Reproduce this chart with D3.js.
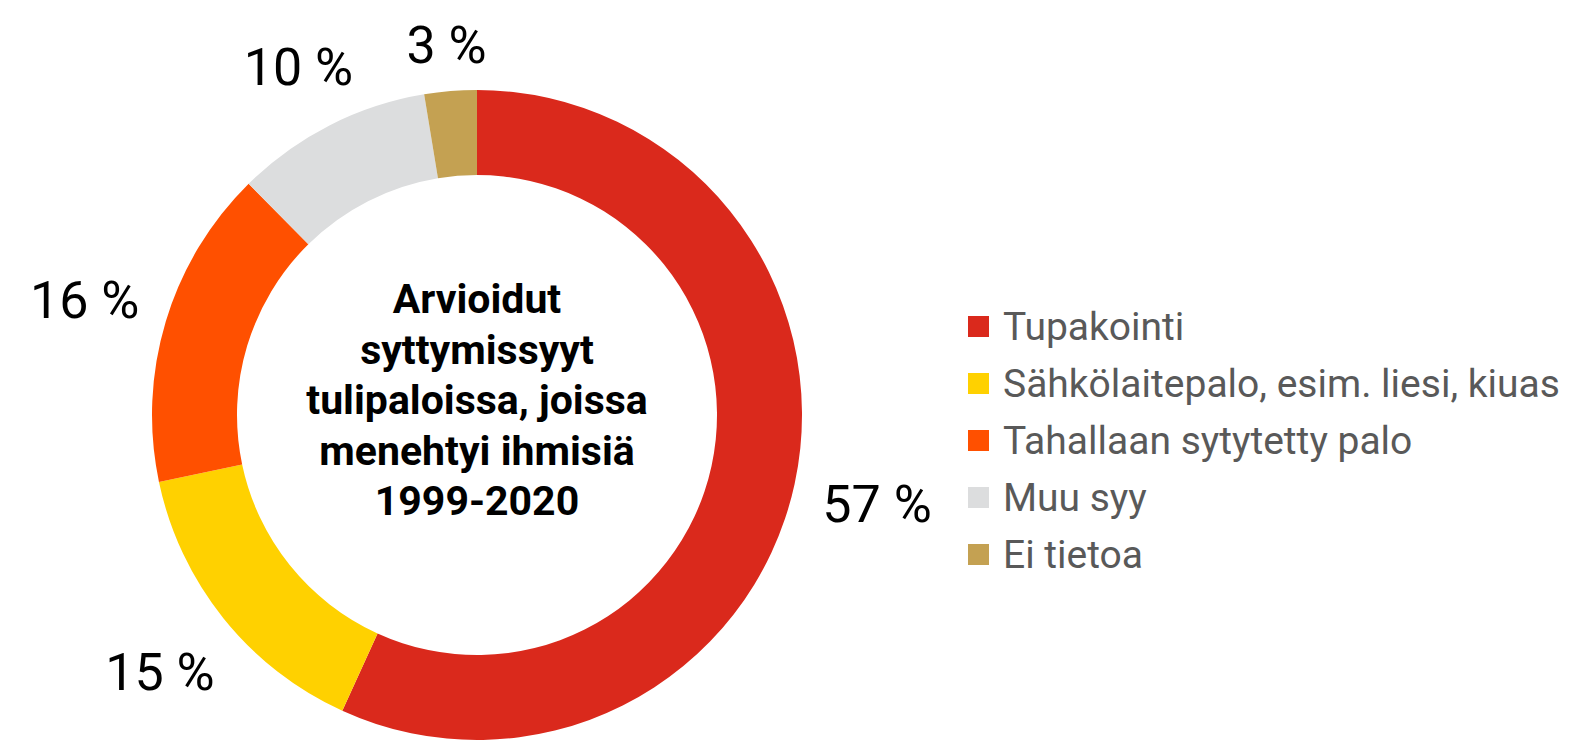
<!DOCTYPE html>
<html>
<head>
<meta charset="utf-8">
<script src="https://cdn.jsdelivr.net/npm/d3@7"></script>
<style>
  html, body { margin: 0; padding: 0; background: #ffffff; }
  svg { display: block; }
</style>
</head>
<body>
<svg id="chart" width="1573" height="743"></svg>
<script>
// ---- Data ----
const categories = [
  "Tupakointi",
  "Sähkölaitepalo, esim. liesi, kiuas",
  "Tahallaan sytytetty palo",
  "Muu syy",
  "Ei tietoa"
];
const values = [56.8, 14.9, 15.9, 9.8, 2.6];
const valueLabels = ["57 %", "15 %", "16 %", "10 %", "3 %"];
const colors = ["#DA291C", "#FFD100", "#FF5000", "#DCDDDE", "#C4A152"];
const titleLines = ["Arvioidut", "syttymissyyt", "tulipaloissa, joissa", "menehtyi ihmisiä", "1999-2020"];

// ---- Layout ----
const cx = 477, cy = 415;
const outerR = 325, innerR = 240;
const labelGap = 352;

const svg = d3.select("#chart");
const g = svg.append("g").attr("transform", `translate(${cx},${cy})`);

const data = categories.map((c, i) => ({ name: c, value: values[i], label: valueLabels[i], color: colors[i] }));

const pie = d3.pie().value(d => d.value).sort(null);
const arc = d3.arc().innerRadius(innerR).outerRadius(outerR);
const arcs = pie(data);

g.selectAll("path.slice")
  .data(arcs)
  .join("path")
  .attr("class", "slice")
  .attr("d", arc)
  .attr("fill", d => d.data.color);

// value labels
const labels = g.selectAll("text.val")
  .data(arcs)
  .join("text")
  .attr("class", "val")
  .attr("font-family", "Roboto, 'Liberation Sans', sans-serif")
  .attr("font-size", 52)
  .attr("font-weight", 400)
  .attr("fill", "#000")
  .attr("text-anchor", "middle")
  .attr("dominant-baseline", "central")
  .text(d => d.data.label);

labels.each(function(d) {
  const bb = this.getBBox();
  const w = bb.width, h = 37;
  const a = (d.startAngle + d.endAngle) / 2;
  const r = labelGap + (w / 2) * Math.abs(Math.sin(a)) + (h / 2) * Math.abs(Math.cos(a));
  d3.select(this)
    .attr("x", r * Math.sin(a))
    .attr("y", -r * Math.cos(a) + 3);
});

// center title
const title = g.append("text")
  .attr("font-family", "Roboto, 'Liberation Sans', sans-serif")
  .attr("font-size", 41)
  .attr("font-weight", 700)
  .attr("fill", "#000")
  .attr("text-anchor", "middle");
const pitch = 50.5;
title.selectAll("tspan")
  .data(titleLines)
  .join("tspan")
  .attr("x", 0)
  .attr("y", (d, i) => 313 - cy + i * pitch)
  .text(d => d);

// legend
const legend = svg.append("g").attr("transform", "translate(968,0)");
const legendY = d3.scalePoint().domain(categories).range([327, 555]);
const items = legend.selectAll("g.item")
  .data(data)
  .join("g")
  .attr("class", "item")
  .attr("transform", d => `translate(0,${legendY(d.name)})`);
items.append("rect")
  .attr("x", 0).attr("y", -11)
  .attr("width", 21).attr("height", 21)
  .attr("fill", d => d.color);
items.append("text")
  .attr("x", 35)
  .attr("y", 0)
  .attr("dominant-baseline", "central")
  .attr("font-family", "Roboto, 'Liberation Sans', sans-serif")
  .attr("font-size", 39)
  .attr("fill", "#595959")
  .text(d => d.name);
</script>
</body>
</html>
